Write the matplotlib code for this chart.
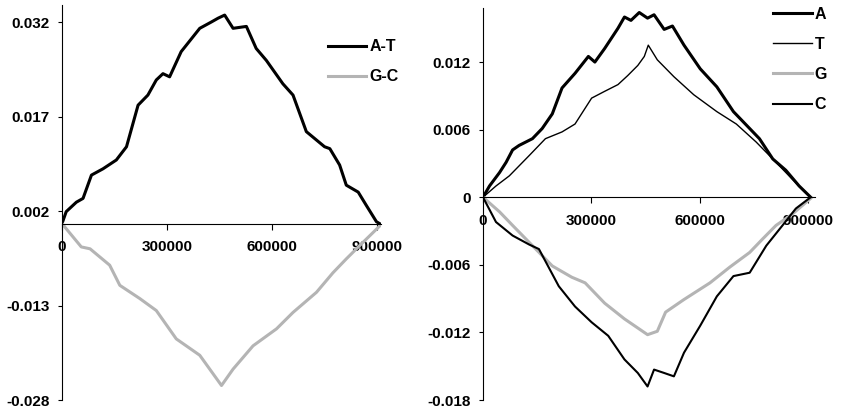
import matplotlib
matplotlib.use("Agg")
import matplotlib.pyplot as plt

plt.rcParams['font.family'] = ['Liberation Sans', 'DejaVu Sans']
plt.rcParams['font.weight'] = 'bold'
plt.rcParams['font.size'] = 11

# left panel: cumulative skews A-T and G-C
left_x_at = [0, 12000, 41000, 60000, 84000, 117000, 155000, 184000, 217000, 245000,
             269000, 288000, 307000, 340000, 393000, 426000, 445000, 464000, 488000,
             526000, 554000, 583000, 630000, 659000, 697000, 749000, 764000, 792000,
             811000, 845000, 868000, 897000, 906000]
left_at = [0, 0.0019, 0.0034, 0.0040, 0.0077, 0.0087, 0.0101, 0.0122, 0.0188, 0.0204,
           0.0228, 0.0238, 0.0233, 0.0273, 0.0310, 0.0320, 0.0326, 0.0331, 0.0310,
           0.0313, 0.0278, 0.0259, 0.0222, 0.0204, 0.0146, 0.0122, 0.0119, 0.0093,
           0.0061, 0.0050, 0.0029, 0.0003, 0.0]
left_x_gc = [0, 55000, 80000, 136000, 165000, 222000, 269000, 326000, 393000, 455000,
             488000, 545000, 612000, 659000, 726000, 773000, 811000, 849000, 906000]
left_gc = [0, -0.0037, -0.0040, -0.0066, -0.0098, -0.0119, -0.0138, -0.0183, -0.0209,
           -0.0257, -0.0231, -0.0194, -0.0167, -0.0141, -0.0109, -0.0078, -0.0056,
           -0.0035, -0.0004]

# right panel: single-base skews
right_x_a = [0, 18000, 46000, 64000, 82000, 100000, 137000, 164000, 192000, 219000,
             255000, 292000, 310000, 337000, 374000, 392000, 410000, 433000, 456000,
             474000, 502000, 525000, 557000, 602000, 648000, 694000, 730000, 766000,
             803000, 839000, 876000, 908000]
right_a = [0, 0.0010, 0.0022, 0.0031, 0.0042, 0.0046, 0.0052, 0.0061, 0.0074, 0.0097,
           0.0110, 0.0125, 0.0120, 0.0132, 0.0150, 0.0160, 0.0157, 0.0164, 0.0159,
           0.0162, 0.0149, 0.0152, 0.0135, 0.0114, 0.0098, 0.0076, 0.0064, 0.0052,
           0.0034, 0.0024, 0.0010, 0.0]
right_x_t = [0, 36000, 73000, 128000, 173000, 219000, 255000, 301000, 337000, 374000,
             401000, 429000, 447000, 458000, 483000, 529000, 584000, 648000, 702000,
             757000, 812000, 857000, 908000]
right_t = [0, 0.0010, 0.0019, 0.0037, 0.0052, 0.0058, 0.0065, 0.0088, 0.0094, 0.0100,
           0.0108, 0.0117, 0.0125, 0.0135, 0.0122, 0.0107, 0.0091, 0.0076, 0.0065,
           0.0049, 0.0031, 0.0016, 0.0]
right_x_g = [0, 46000, 82000, 137000, 192000, 246000, 283000, 337000, 392000, 456000,
             483000, 506000, 556000, 629000, 684000, 739000, 775000, 812000, 857000,
             908000]
right_g = [0, -0.0013, -0.0025, -0.0043, -0.0061, -0.0071, -0.0076, -0.0094, -0.0108,
           -0.0122, -0.0119, -0.0102, -0.0091, -0.0076, -0.0062, -0.0049, -0.0037,
           -0.0025, -0.0015, -0.0001]
right_x_c = [0, 36000, 82000, 128000, 155000, 210000, 255000, 301000, 347000, 392000,
             429000, 456000, 474000, 502000, 529000, 557000, 602000, 648000, 694000,
             739000, 785000, 830000, 867000, 908000]
right_c = [0, -0.0022, -0.0034, -0.0042, -0.0046, -0.0079, -0.0097, -0.0111, -0.0123,
           -0.0144, -0.0156, -0.0168, -0.0153, -0.0156, -0.0159, -0.0138, -0.0114,
           -0.0088, -0.0070, -0.0067, -0.0043, -0.0025, -0.0010, 0.0]

x_ticks = [0, 300000, 600000, 900000]
left_yticks = [0.032, 0.017, 0.002, -0.013, -0.028]
right_yticks = [0.012, 0.006, 0, -0.006, -0.012, -0.018]

W, H = 847, 407
fig = plt.figure(figsize=(W / 100, H / 100), dpi=100)
ax1 = fig.add_axes([62 / W, 1 - 400 / H, 319 / W, 395 / H])
ax2 = fig.add_axes([483 / W, 1 - 400 / H, 332 / W, 392 / H])

gray = '#b4b4b4'


def style(ax, yticks, ylabels, ylim, xlim):
    for s in ['top', 'right']:
        ax.spines[s].set_visible(False)
    ax.spines['bottom'].set_position(('data', 0))
    ax.spines['bottom'].set_linewidth(0.8)
    ax.spines['left'].set_linewidth(0.8)
    ax.set_xlim(*xlim)
    ax.set_ylim(*ylim)
    ax.set_xticks(x_ticks)
    ax.set_xticklabels([str(v) for v in x_ticks])
    ax.set_yticks(yticks)
    ax.set_yticklabels(ylabels)
    ax.tick_params(axis='x', direction='out', length=4, pad=8, labelsize=11)
    ax.tick_params(axis='y', direction='out', length=3, pad=6, labelsize=11)


ax1.plot(left_x_at, left_at, color='black', lw=2.2, label='A-T')
ax1.plot(left_x_gc, left_gc, color=gray, lw=2.2, label='G-C')
style(ax1, left_yticks, ['0.032', '0.017', '0.002', '-0.013', '-0.028'],
      (-0.028, 0.0347), (0, 910000))
ax1.legend(loc='upper right', bbox_to_anchor=(1.10, 0.95), frameon=False,
           handlelength=2.4, handletextpad=0.2, labelspacing=0.95, fontsize=11.5)

ax2.plot(right_x_a, right_a, color='black', lw=2.2, label='A')
ax2.plot(right_x_t, right_t, color='black', lw=1.0, label='T')
ax2.plot(right_x_g, right_g, color=gray, lw=2.2, label='G')
ax2.plot(right_x_c, right_c, color='black', lw=1.5, label='C')
style(ax2, right_yticks, ['0.012', '0.006', '0', '-0.006', '-0.012', '-0.018'],
      (-0.018, 0.0168), (0, 920000))
ax2.legend(loc='upper right', bbox_to_anchor=(1.08, 1.04), frameon=False,
           handlelength=2.4, handletextpad=0.2, labelspacing=0.95, fontsize=11.5)

fig.savefig('out.png', dpi=100)
